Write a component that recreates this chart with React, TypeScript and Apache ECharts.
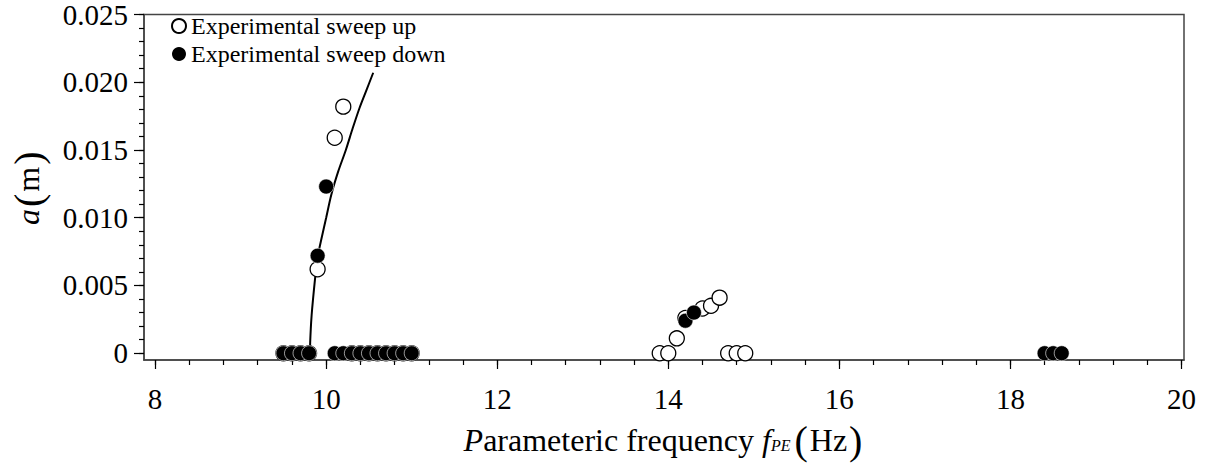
import React, { useEffect, useRef } from "react";
import * as echarts from "echarts";

const upX = [9.5, 9.6, 9.7, 9.8, 9.9, 10.1, 10.2, 10.3, 10.4, 10.5, 10.6, 10.7, 10.8, 10.9, 11.0, 13.9, 14.0, 14.1, 14.2, 14.4, 14.5, 14.6, 14.7, 14.8, 14.9];
const upY = [0, 0, 0, 0, 0.0062, 0.0159, 0.0182, 0, 0, 0, 0, 0, 0, 0, 0, 0, 0, 0.0011, 0.0026, 0.0033, 0.0035, 0.0041, 0, 0, 0];

const downX = [9.5, 9.6, 9.7, 9.8, 9.9, 10.0, 10.1, 10.2, 10.3, 10.4, 10.5, 10.6, 10.7, 10.8, 10.9, 11.0, 14.2, 14.3, 18.4, 18.5, 18.6];
const downY = [0, 0, 0, 0, 0.0072, 0.0123, 0, 0, 0, 0, 0, 0, 0, 0, 0, 0, 0.0024, 0.003, 0, 0, 0];

const curveX = [9.81, 9.813, 9.82, 9.83, 9.845, 9.87, 9.9, 9.95, 10.0, 10.06, 10.14, 10.23, 10.31, 10.39, 10.47, 10.55];
const curveY = [0, 0.0008, 0.0018, 0.0028, 0.0039, 0.0055, 0.0071, 0.0086, 0.0100, 0.0117, 0.0134, 0.0150, 0.0166, 0.0181, 0.0194, 0.0207];

const xMajorTicks = [8, 10, 12, 14, 16, 18, 20];
const yMajorTicks = [0, 0.005, 0.01, 0.015, 0.02, 0.025];

const xMinorTicks: number[] = [];
for (let i = 0; i <= 30; i++) xMinorTicks.push(+(8 + i * 0.4).toFixed(2));
const yMinorTicks: number[] = [];
for (let i = 0; i <= 25; i++) yMinorTicks.push(+(i * 0.001).toFixed(4));

const FONT = "Liberation Serif";

export default function App() {
  const ref = useRef<HTMLDivElement>(null);
  useEffect(() => {
    if (!ref.current) return;
    const chart = echarts.init(ref.current, undefined, { renderer: "svg" });
    const zip = (xs: number[], ys: number[]) => xs.map((x, i) => [x, ys[i]]);
    chart.setOption({
      animation: false,
      backgroundColor: "#fff",
      grid: { left: 142, right: 25, top: 14, bottom: 103, show: true, borderColor: "#444", borderWidth: 1.5, backgroundColor: "transparent" },
      legend: {
        orient: "vertical",
        left: 166,
        top: 9,
        itemWidth: 14,
        itemHeight: 14,
        itemGap: 4,
        textStyle: { fontFamily: FONT, fontSize: 24, color: "#000" },
        data: [
          { name: "Experimental sweep up" },
          { name: "Experimental sweep down", itemStyle: { borderWidth: 0 } },
        ],
      },
      xAxis: [
        {
          type: "value",
          min: 7.87,
          max: 20.03,
          axisLine: { show: true, onZero: false, lineStyle: { color: "#444", width: 1.5 } },
          axisTick: { show: true, customValues: xMajorTicks, length: 9, lineStyle: { color: "#000", width: 1.2 } },
          axisLabel: { customValues: xMajorTicks, fontFamily: FONT, fontSize: 29, color: "#000", margin: 24 },
          splitLine: { show: false },
          name: "{i|P}arameteric frequency {i|f}{s|PE}{b|(}Hz{b|)}",
          nameLocation: "middle",
          nameGap: 60,
          nameTextStyle: {
            fontFamily: FONT,
            fontSize: 32,
            color: "#000",
            rich: {
              i: { fontFamily: FONT, fontSize: 32, fontStyle: "italic", color: "#000" },
              s: { fontFamily: FONT, fontSize: 16, fontStyle: "italic", color: "#000", padding: [10, 2, 0, 0] },
              b: { fontFamily: FONT, fontSize: 40, color: "#000", padding: [0, 2, 0, 2] },
            },
          },
        },
        {
          type: "value",
          min: 7.87,
          max: 20.03,
          position: "bottom",
          axisLine: { show: false, onZero: false },
          axisTick: { show: true, customValues: xMinorTicks, length: 5, lineStyle: { color: "#000", width: 1.2 } },
          axisLabel: { show: false },
          splitLine: { show: false },
        },
      ],
      yAxis: [
        {
          type: "value",
          min: -0.0005,
          max: 0.025,
          axisLine: { show: true, onZero: false, lineStyle: { color: "#444", width: 1.5 } },
          axisTick: { show: true, customValues: yMajorTicks, length: 10, lineStyle: { color: "#000", width: 1.2 } },
          axisLabel: {
            customValues: yMajorTicks,
            fontFamily: FONT,
            fontSize: 29,
            color: "#000",
            margin: 16,
            formatter: (v: number) => (v === 0 ? "0" : v.toFixed(3)),
          },
          splitLine: { show: false },
          name: "{i|a}{b|(}m{b|)}",
          nameLocation: "middle",
          nameRotate: 90,
          nameGap: 96,
          nameTextStyle: {
            fontFamily: FONT,
            fontSize: 32,
            color: "#000",
            rich: {
              i: { fontFamily: FONT, fontSize: 32, fontStyle: "italic", color: "#000" },
              b: { fontFamily: FONT, fontSize: 40, color: "#000", padding: [0, 2, 0, 2] },
            },
          },
        },
        {
          type: "value",
          min: -0.0005,
          max: 0.025,
          position: "left",
          axisLine: { show: false, onZero: false },
          axisTick: { show: true, customValues: yMinorTicks, length: 5, lineStyle: { color: "#000", width: 1.2 } },
          axisLabel: { show: false },
          splitLine: { show: false },
        },
      ],
      series: [
        {
          name: "Backbone",
          type: "line",
          data: zip(curveX, curveY),
          showSymbol: false,
          symbol: "none",
          smooth: 0.3,
          lineStyle: { color: "#000", width: 2 },
          z: 3,
        },
        {
          name: "Experimental sweep up",
          type: "scatter",
          data: zip(upX, upY),
          symbol: "circle",
          symbolSize: 15,
          itemStyle: { color: "#fff", borderColor: "#000", borderWidth: 1.3, opacity: 1 },
          z: 4,
        },
        {
          name: "Experimental sweep down",
          type: "scatter",
          data: zip(downX, downY),
          symbol: "circle",
          symbolSize: 15,
          itemStyle: { color: "#000", borderColor: "#fff", borderWidth: 0.6, opacity: 1 },
          z: 5,
        },
      ],
    });
    return () => chart.dispose();
  }, []);
  return <div ref={ref} style={{ position: "absolute", left: 0, top: 0, width: 1209, height: 465 }} />;
}
